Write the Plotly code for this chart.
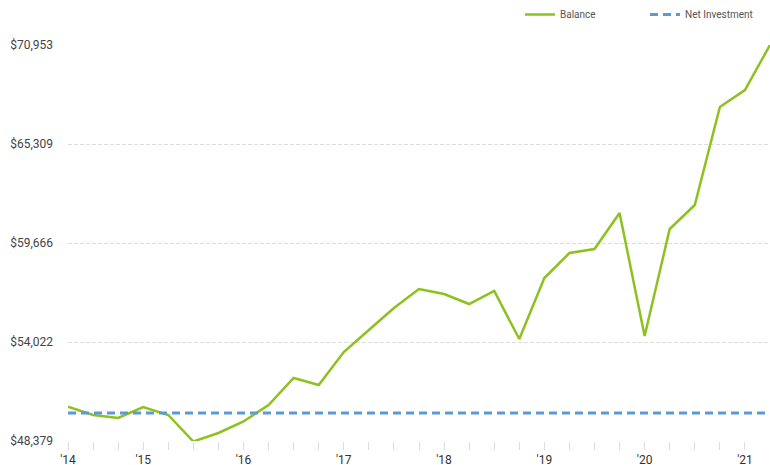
import plotly.graph_objects as go

quarters = ["2014-Q2", "2014-Q3", "2014-Q4", "2015-Q1", "2015-Q2", "2015-Q3", "2015-Q4",
            "2016-Q1", "2016-Q2", "2016-Q3", "2016-Q4", "2017-Q1", "2017-Q2", "2017-Q3",
            "2017-Q4", "2018-Q1", "2018-Q2", "2018-Q3", "2018-Q4", "2019-Q1", "2019-Q2",
            "2019-Q3", "2019-Q4", "2020-Q1", "2020-Q2", "2020-Q3", "2020-Q4", "2021-Q1",
            "2021-Q2"]

balance = [50334, 49861, 49690, 50317, 49861, 48350, 48835, 49491, 50431, 51970,
           51571, 53452, 54706, 55960, 57043, 56758, 56188, 56929, 54193, 57670,
           59095, 59323, 61375, 54364, 60463, 61831, 67417, 68386, 70953]

net_investment = [49975, 49975, 49975, 49975, 49975, 49975, 49975, 49975, 49975, 49975,
                  49975, 49975, 49975, 49975, 49975, 49975, 49975, 49975, 49975, 49975,
                  49975, 49975, 49975, 49975, 49975, 49975, 49975, 49975, 49975]

y_ticks = [48379, 54022, 59666, 65309, 70953]
y_tick_labels = ["$48,379", "$54,022", "$59,666", "$65,309", "$70,953"]

year_ticks = {"2014-Q2": "'14", "2015-Q1": "'15", "2016-Q1": "'16", "2017-Q1": "'17",
              "2018-Q1": "'18", "2019-Q1": "'19", "2020-Q1": "'20", "2021-Q1": "'21"}

FONT = "Roboto, Liberation Sans Narrow, sans-serif"

fig = go.Figure()
fig.add_trace(go.Scatter(
    x=quarters, y=balance, name="Balance", mode="lines",
    line=dict(color="#8cc11f", width=2.5),
))
fig.add_trace(go.Scatter(
    x=quarters, y=net_investment, name="Net Investment", mode="lines",
    line=dict(color="#5b9bd5", width=3, dash="8px,5px"),
))

fig.update_layout(
    width=770, height=465,
    margin=dict(l=68, r=0, t=45, b=24, autoexpand=False),
    plot_bgcolor="white", paper_bgcolor="white",
    font=dict(family=FONT, color="#444444"),
    showlegend=True,
    legend=dict(orientation="h", xref="container", x=1.0, xanchor="right",
                yref="container", y=1.0, yanchor="top",
                font=dict(size=10, color="#555555"),
                itemwidth=30, entrywidth=80, entrywidthmode="pixels",
                bgcolor="rgba(0,0,0,0)", tracegroupgap=0),
    xaxis=dict(
        type="category", range=[0, len(quarters) - 1],
        tickvals=quarters,
        ticktext=[year_ticks.get(q, "") for q in quarters],
        ticks="outside", ticklen=8, tickcolor="#dddddd", tickwidth=1,
        showgrid=False, zeroline=False, showline=False, automargin=False,
        tickfont=dict(size=12, color="#333333", family=FONT),
    ),
    yaxis=dict(
        range=[y_ticks[0], y_ticks[-1]],
        tickvals=y_ticks, ticktext=y_tick_labels,
        showgrid=True, gridcolor="#dcdcdc", gridwidth=1, griddash="4px,2px",
        zeroline=False, showline=False, ticks="", automargin=False,
        ticklabelstandoff=14,
        tickfont=dict(size=12, color="#444444", family=FONT),
    ),
)

fig.write_html("out.html", config={"displayModeBar": False},
               post_script="document.body.style.margin='0';document.body.style.overflow='hidden';")
